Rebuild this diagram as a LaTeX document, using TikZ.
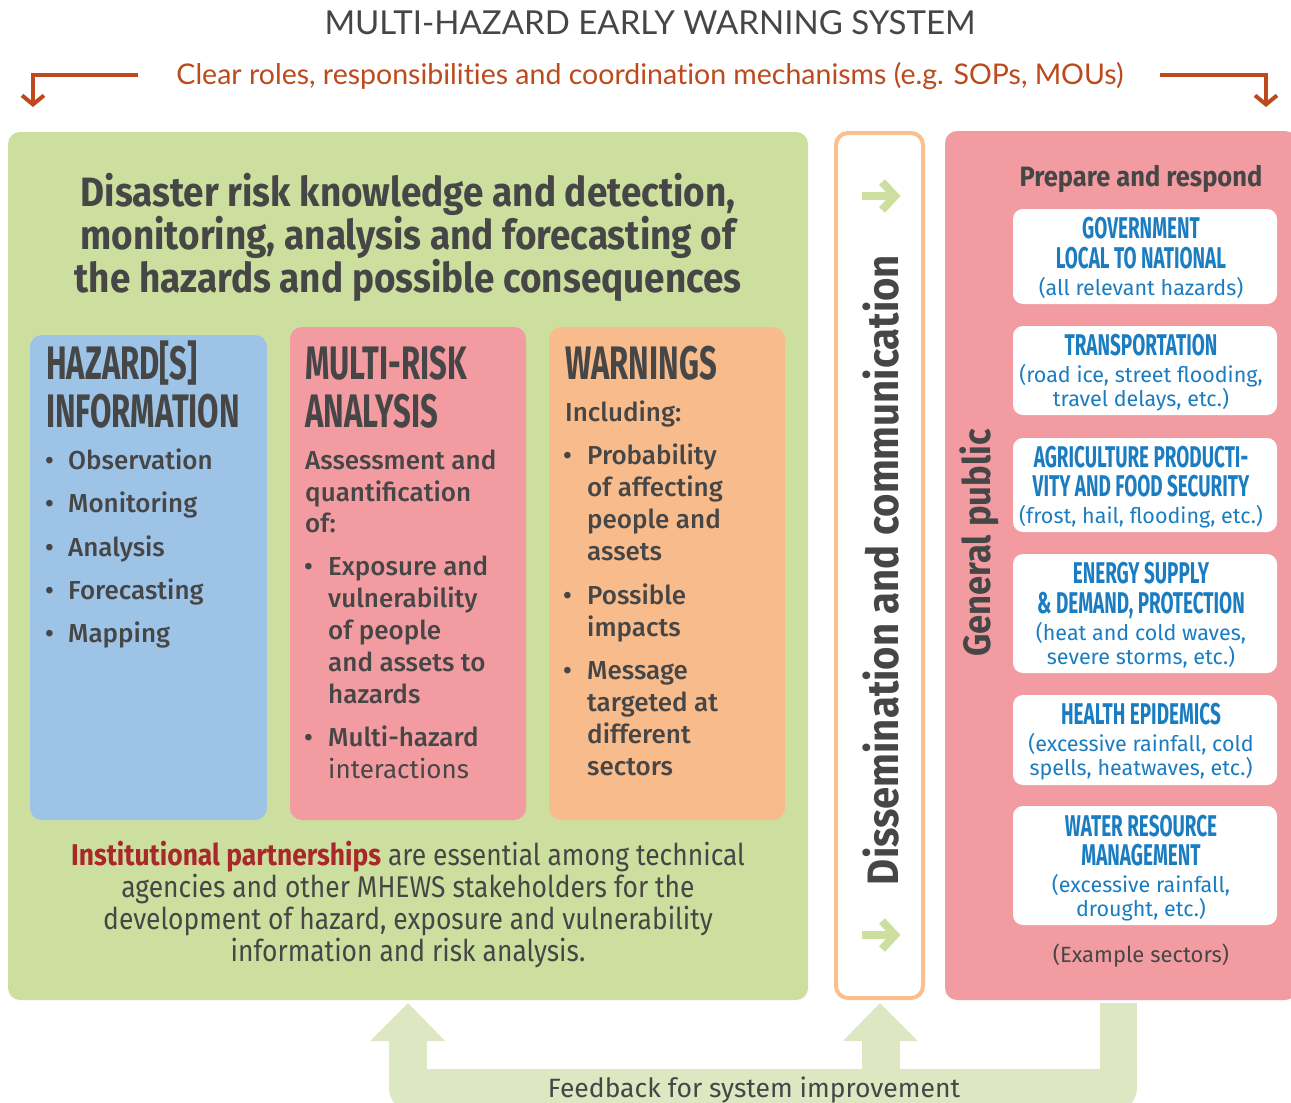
\documentclass[tikz,border=0pt]{standalone}
\usepackage{fontspec}
\setmainfont{Fira Sans}
\newfontfamily\medf{Fira Sans Medium}
\newfontfamily\condf[FakeStretch=0.66]{Fira Sans}
\newfontfamily\secf[FakeStretch=0.63]{Fira Sans}
\newfontfamily\headf[FakeStretch=0.9]{Fira Sans}
\newfontfamily\instf[FakeStretch=0.88]{Fira Sans}
\newfontfamily\vertf[FakeStretch=0.91]{Fira Sans}
\newfontfamily\titlef[Ligatures={NoCommon,NoRequired,NoContextual}]{Lato}
\newfontfamily\subf[Ligatures={NoCommon,NoRequired,NoContextual}]{Lato}
\usetikzlibrary{arrows.meta}
\definecolor{gbox}{HTML}{CDDF9F}
\definecolor{fbk}{HTML}{DDE8C2}
\definecolor{bbox}{HTML}{9DC3E7}
\definecolor{pbox}{HTML}{F29CA2}
\definecolor{obox}{HTML}{F8BB8C}
\definecolor{txt}{HTML}{464646}
\definecolor{secb}{HTML}{1B7DC1}
\definecolor{oline}{HTML}{F9BF8F}
\definecolor{rust}{HTML}{BC4A1C}
\definecolor{instr}{HTML}{A8282B}
\tikzset{
  panel/.style={rounded corners=12pt, inner sep=0pt, draw=none},
  itm/.style={anchor=base west, inner sep=0pt, text=txt, font=\medf\fontsize{26}{32}\selectfont},
  itmr/.style={anchor=base west, inner sep=0pt, text=txt, font=\fontsize{26}{32}\selectfont},
  bul/.style={anchor=base west, inner sep=0pt, text=txt, font=\medf\fontsize{26}{32}\selectfont},
  hdr/.style={anchor=base west, inner sep=0pt, text=txt, font=\condf\bfseries\fontsize{47}{50}\selectfont},
  sect/.style={anchor=base, inner sep=0pt, text=secb, font=\secf\bfseries\fontsize{30}{31}\selectfont},
  secsub/.style={anchor=base, inner sep=0pt, text=secb, font=\fontsize{21.5}{24}\selectfont},
  bigh/.style={anchor=base, inner sep=0pt, text=txt, font=\headf\bfseries\fontsize{41}{43}\selectfont},
  inst/.style={anchor=base, inner sep=0pt, text=txt, font=\instf\fontsize{30}{32}\selectfont},
  oarrow/.style={draw=rust, line width=4pt, -{Straight Barb[length=9pt,width=22pt]}},
  gline/.style={draw=gbox, line width=8pt},
}
\begin{document}
\begin{tikzpicture}[x=1pt,y=-1pt]
\clip (0,0) rectangle (1291,1103);
\fill[white] (0,0) rectangle (1291,1103);
% title
\node[anchor=base, inner sep=0pt, text=txt, font=\titlef\fontsize{33}{36}\selectfont] (title) at (650,34) {MULTI-HAZARD EARLY WARNING SYSTEM};
\node[anchor=base, inner sep=0pt, text=rust, font=\subf\fontsize{28.5}{30}\selectfont] (sub) at (650,84) {Clear roles, responsibilities and coordination mechanisms (e.g. SOPs, MOUs)};
\coordinate (la) at (138,75);
\coordinate (lb) at (33,107);
\coordinate (ra) at (1160,75);
\coordinate (rb) at (1266,107);
\draw[oarrow] (la) -| (lb);
\draw[oarrow] (ra) -| (rb);
% green panel
\node[panel, fill=gbox, minimum width=800pt, minimum height=868pt] (green) at (408,566) {};
\node[bigh] (h1) at (408,206) {Disaster risk knowledge and detection,};
\node[bigh] (h2) at (408,249) {monitoring, analysis and forecasting of};
\node[bigh] (h3) at (408,292) {the hazards and possible consequences};
% three boxes
\node[panel, fill=bbox, minimum width=237pt, minimum height=485pt] (blue) at (148.5,577.5) {};
\node[panel, fill=pbox, minimum width=236pt, minimum height=493pt] (pink) at (408,573.5) {};
\node[panel, fill=obox, minimum width=236pt, minimum height=493pt] (orng) at (667,573.5) {};
% blue content
\node[hdr] (bh1) at (46,379) {HAZARD[S]};
\node[hdr] (bh2) at (46,427) {INFORMATION};
\foreach \t/\yy [count=\i] in {Observation/469,Monitoring/512,Analysis/556,Forecasting/599,Mapping/642}{
  \node[bul] (bb\i) at (45,\yy) {•};
  \node[itm] (bt\i) at (68,\yy) {\t};
}
% pink content
\node[hdr] (ph1) at (305,379) {MULTI-RISK};
\node[hdr] (ph2) at (305,427) {ANALYSIS};
\foreach \t/\yy [count=\i] in {Assessment and/469,quantification/501,of:/532}{
  \node[itm] (pa\i) at (305,\yy) {\t};
}
\node[bul] (pb1) at (304,575) {•};
\foreach \t/\yy [count=\i] in {Exposure and/575,vulnerability/607,of people/639,and assets to/671,hazards/703}{
  \node[itm] (pe\i) at (328,\yy) {\t};
}
\node[bul] (pb2) at (304,746) {•};
\node[itm] (pm1) at (328,746) {Multi-hazard};
\node[itmr] (pm2) at (328,778) {interactions};
% orange content
\node[hdr] (oh1) at (565,379) {WARNINGS};
\node[itm] (oi) at (565,421) {Including:};
\node[bul] (ob1) at (563,464) {•};
\foreach \t/\yy [count=\i] in {Probability/464,of affecting/496,people and/528,assets/560}{
  \node[itm] (op\i) at (587,\yy) {\t};
}
\node[bul] (ob2) at (563,604) {•};
\node[itm] (oq1) at (587,604) {Possible};
\node[itm] (oq2) at (587,636) {impacts};
\node[bul] (ob3) at (563,679) {•};
\foreach \t/\yy [count=\i] in {Message/679,targeted at/711,different/743,sectors/775}{
  \node[itm] (om\i) at (587,\yy) {\t};
}
% institutional
\node[inst] (in1) at (408,865) {\textcolor{instr}{\bfseries Institutional partnerships} are essential among technical};
\node[inst] (in2) at (408,897) {agencies and other MHEWS stakeholders for the};
\node[inst] (in3) at (408,929) {development of hazard, exposure and vulnerability};
\node[inst] (in4) at (408,961) {information and risk analysis.};
% dissemination
\node[panel, fill=white, draw=oline, line width=4pt, minimum width=87pt, minimum height=865pt] (diss) at (879.5,565.5) {};
\node[rotate=90, inner sep=0pt, text=txt, font=\vertf\bfseries\fontsize{44}{44}\selectfont] (disst) at (881,570) {Dissemination and communication};
\foreach \yy [count=\i] in {196,935}{
  \coordinate (g\i) at (880,\yy);
  \draw[gline] ([xshift=-18pt]g\i) -- ([xshift=13pt]g\i);
  \draw[gline, line join=miter] ([xshift=2pt,yshift=14pt]g\i) -- ([xshift=15pt]g\i) -- ([xshift=2pt,yshift=-14pt]g\i);
}
% general public
\node[panel, fill=pbox, minimum width=352pt, minimum height=869pt] (gp) at (1121,565.5) {};
\node[rotate=90, inner sep=0pt, text=txt, font=\vertf\bfseries\fontsize{38}{38}\selectfont] (gpt) at (979,543) {General public};
\node[anchor=base, inner sep=0pt, text=txt, font=\vertf\bfseries\fontsize{28}{30}\selectfont] (prep) at (1141,186) {Prepare and respond};
\foreach \ya/\yb [count=\i] in {209/304,326/415,438/532,554/673,695/785,806/925}{
  \node[panel, fill=white, rounded corners=10pt, minimum width=264pt, minimum height=\yb pt-\ya pt] (s\i) at (1145,{(\ya+\yb)/2}) {};
}
\node[sect] (s1a) at (1141,238.5) {GOVERNMENT};
\node[sect] (s1b) at (1141,268.5) {LOCAL TO NATIONAL};
\node[secsub] (s1c) at (1141,295) {(all relevant hazards)};
\node[sect] (s2a) at (1141,355.5) {TRANSPORTATION};
\node[secsub] (s2b) at (1141,382) {(road ice, street flooding,};
\node[secsub] (s2c) at (1141,406) {travel delays, etc.)};
\node[sect] (s3a) at (1141,467.5) {AGRICULTURE PRODUCTI-};
\node[sect] (s3b) at (1141,496.5) {VITY AND FOOD SECURITY};
\node[secsub] (s3c) at (1141,523) {(frost, hail, flooding, etc.)};
\node[sect] (s4a) at (1141,583.5) {ENERGY SUPPLY};
\node[sect] (s4b) at (1141,613.5) {\& DEMAND, PROTECTION};
\node[secsub] (s4c) at (1141,640) {(heat and cold waves,};
\node[secsub] (s4d) at (1141,664) {severe storms, etc.)};
\node[sect] (s5a) at (1141,724.5) {HEALTH EPIDEMICS};
\node[secsub] (s5b) at (1141,751) {(excessive rainfall, cold};
\node[secsub] (s5c) at (1141,775) {spells, heatwaves, etc.)};
\node[sect] (s6a) at (1141,836.5) {WATER RESOURCE};
\node[sect] (s6b) at (1141,865.5) {MANAGEMENT};
\node[secsub] (s6c) at (1141,892) {(excessive rainfall,};
\node[secsub] (s6d) at (1141,916) {drought, etc.)};
\node[anchor=base, inner sep=0pt, text=txt, font=\fontsize{22}{24}\selectfont] (ex) at (1141,962) {(Example sectors)};
% feedback
\begin{scope}
  \clip (0,1069) rectangle (1291,1120);
  \fill[fbk, rounded corners=24pt] (389,1020) rectangle (1137,1112);
\end{scope}
\fill[fbk] (389,1041) rectangle (427,1085);
\fill[fbk] (370,1041) -- (408,1003) -- (445,1041) -- cycle;
\fill[fbk] (862,1041) rectangle (900,1085);
\fill[fbk] (843,1041) -- (880,1003) -- (918,1041) -- cycle;
\fill[fbk] (1100,1003) rectangle (1137,1085);
\node[anchor=base, inner sep=0pt, text=txt, font=\fontsize{26.5}{30}\selectfont] (fb) at (754,1097) {Feedback for system improvement};
\end{tikzpicture}
\end{document}
